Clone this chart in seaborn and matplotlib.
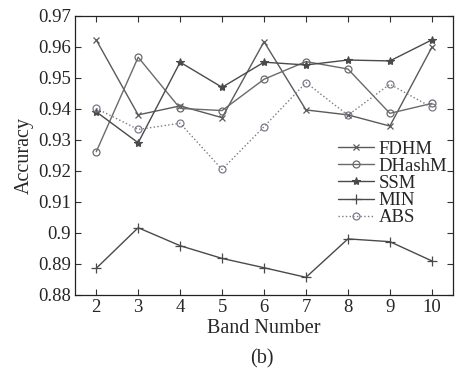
import pandas as pd
import matplotlib
matplotlib.use("Agg")
import matplotlib.pyplot as plt
import seaborn as sns

# Data
bands = [2, 3, 4, 5, 6, 7, 8, 9, 10]
fdhm = [0.9623, 0.9381, 0.9410, 0.9372, 0.9617, 0.9397, 0.9381, 0.9345, 0.9599]
dhashm = [0.9262, 0.9567, 0.9402, 0.9395, 0.9496, 0.9553, 0.9529, 0.9386, 0.9418]
ssm = [0.9391, 0.9291, 0.9551, 0.9470, 0.9551, 0.9542, 0.9558, 0.9555, 0.9623]
min_ = [0.8886, 0.9017, 0.8959, 0.8918, 0.8888, 0.8857, 0.8981, 0.8972, 0.8910]
abs_ = [0.9402, 0.9334, 0.9354, 0.9205, 0.9343, 0.9485, 0.9380, 0.9480, 0.9405]

series = {'FDHM': fdhm, 'DHashM': dhashm, 'SSM': ssm, 'MIN': min_, 'ABS': abs_}
rows = []
for name, vals in series.items():
    for b, v in zip(bands, vals):
        rows.append({'Band Number': b, 'Accuracy': v, 'Method': name})
df = pd.DataFrame(rows)

sns.set_style('ticks')
plt.rcParams['font.family'] = ['Liberation Serif', 'DejaVu Serif']

styles = {
    'FDHM': dict(marker='x', color='#5a5a5a', ls='-', ms=5, mew=0.9),
    'DHashM': dict(marker='o', color='#6a6a6a', ls='-', ms=5, mew=0.9, mfc='none'),
    'SSM': dict(marker='*', color='#4a4a4a', ls='-', ms=6, mew=0.8),
    'MIN': dict(marker='+', color='#4a4a4a', ls='-', ms=7, mew=0.9),
    'ABS': dict(marker='o', color='#7a7a8a', ls=':', ms=5, mew=0.9, mfc='none'),
}

fig, ax = plt.subplots(figsize=(4.56, 3.72), dpi=100)
fig.subplots_adjust(left=0.165, right=0.993, bottom=0.207, top=0.957)

for name in series:
    st = styles[name]
    sub = df[df['Method'] == name]
    sns.lineplot(data=sub, x='Band Number', y='Accuracy', ax=ax, label=name,
                 color=st['color'], linestyle=st['ls'], linewidth=1.0,
                 marker=st['marker'], markersize=st['ms'], markeredgewidth=st['mew'],
                 markerfacecolor=st.get('mfc', st['color']),
                 markeredgecolor=st['color'])

ax.set_xlim(1.5, 10.5)
ax.set_ylim(0.88, 0.97)
ax.set_xticks(bands)
ax.set_yticks([0.88, 0.89, 0.9, 0.91, 0.92, 0.93, 0.94, 0.95, 0.96, 0.97])
ax.set_yticklabels(['0.88', '0.89', '0.9', '0.91', '0.92', '0.93', '0.94', '0.95', '0.96', '0.97'])
ax.tick_params(direction='in', top=True, right=True, labelsize=13.5, length=4,
               width=0.8, color='#333333', pad=3)
for s in ax.spines.values():
    s.set_linewidth(0.9)
    s.set_color('#222222')

ax.set_xlabel('Band Number', fontsize=14.5, labelpad=2)
ax.set_ylabel('Accuracy', fontsize=14.5, labelpad=3)
fig.text(0.575, 0.035, '(b)', ha='center', va='center', fontsize=14.5)

ax.legend(loc='center right', bbox_to_anchor=(1.0, 0.40), frameon=False,
          fontsize=13.5, labelspacing=0.0, handlelength=1.9, handletextpad=0.25,
          borderaxespad=0.1, borderpad=0.2)

fig.savefig('out.png', dpi=100)
